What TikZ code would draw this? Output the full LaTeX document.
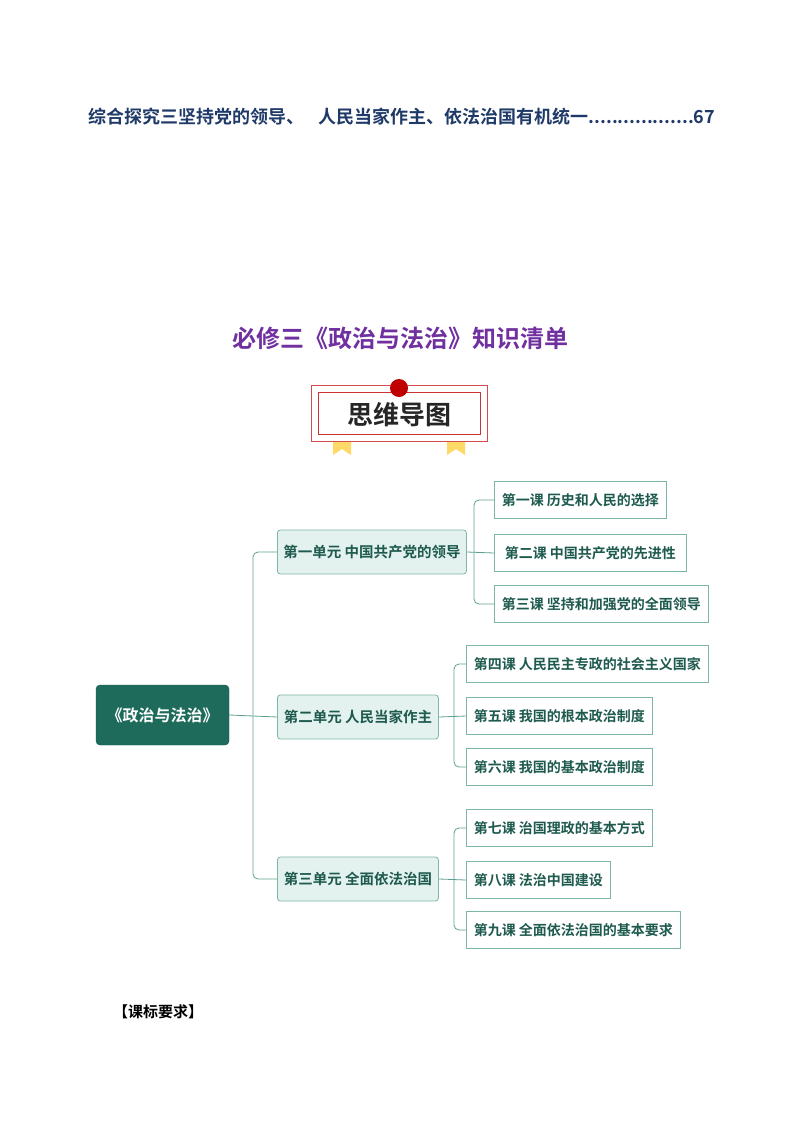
\documentclass[tikz,border=0pt]{standalone}
\usepackage{fontspec}
\setmainfont{Noto Sans CJK SC}[BoldFont={Noto Sans CJK SC Bold}]
\newfontfamily\cjkb{Noto Sans CJK SC Bold}
\definecolor{dkg}{HTML}{1E6B5C}
\definecolor{txg}{HTML}{1E5A4E}
\definecolor{lg}{HTML}{E4F2EF}
\definecolor{bd}{HTML}{7DB5A8}
\definecolor{ln}{HTML}{5E9E90}
\definecolor{navy}{HTML}{1F3A68}
\definecolor{purp}{HTML}{7030A0}
\definecolor{redc}{HTML}{C00000}
\definecolor{yel}{HTML}{FFD966}
\begin{document}
\begin{tikzpicture}[x=1pt,y=-1pt,
  unitbox/.style={draw=bd,fill=lg,rounded corners=3,line width=0.8,minimum height=44,font=\cjkb\fontsize{14.5}{14.5}\selectfont,text=txg,anchor=west,inner sep=3},
  lessonbox/.style={draw=bd,fill=white,line width=0.8,minimum height=37,font=\cjkb\fontsize{14}{14}\selectfont,text=txg,anchor=west,inner xsep=5},
  conn/.style={draw=ln,line width=0.8,rounded corners=5}]
\useasboundingbox (0,0) rectangle (800,1132);
\node[anchor=west,text=navy,font=\cjkb\fontsize{18}{18}\selectfont,inner sep=0] (toc) at (88,117) {综合探究三坚持党的领导、\hspace{0.8em}人民当家作主、依法治国有机统一..................67};
\node[text=purp,font=\cjkb\fontsize{24}{24}\selectfont] (title) at (400,338) {必修三《政治与法治》知识清单};
% banner
\fill[yel] (333,436) -- (351,436) -- (351,455) -- (342,449) -- (333,455) -- cycle;
\fill[yel] (447,436) -- (465,436) -- (465,455) -- (456,449) -- (447,455) -- cycle;
\draw[redc!70,fill=white,line width=0.6] (311,385) rectangle (487,441);
\draw[redc!80,line width=0.8] (318,392) rectangle (480,434);
\fill[redc] (399,388) circle (9);
\node[font=\cjkb\fontsize{26}{26}\selectfont,text=black!85] (mm) at (399,415) {思维导图};
% root
\node[fill=dkg,draw=dkg!80!black,rounded corners=4,minimum width=133,minimum height=60,text=white,font=\cjkb\fontsize{16}{16}\selectfont] (root) at (162.5,715) {《政治与法治》};
\node[unitbox,minimum width=189] (u1) at (277,552) {第一单元 中国共产党的领导};
\node[unitbox,minimum width=161] (u2) at (277,717) {第二单元 人民当家作主};
\node[unitbox,minimum width=161] (u3) at (277,879) {第三单元 全面依法治国};
\node[lessonbox,minimum width=172] (l1) at (494,500) {第一课 历史和人民的选择};
\node[lessonbox,minimum width=192] (l2) at (494,553) {第二课 中国共产党的先进性};
\node[lessonbox,minimum width=214] (l3) at (494,604) {第三课 坚持和加强党的全面领导};
\node[lessonbox,minimum width=242] (l4) at (466,664) {第四课 人民民主专政的社会主义国家};
\node[lessonbox,minimum width=186] (l5) at (466,716) {第五课 我国的根本政治制度};
\node[lessonbox,minimum width=186] (l6) at (466,767) {第六课 我国的基本政治制度};
\node[lessonbox,minimum width=186] (l7) at (466,828) {第七课 治国理政的基本方式};
\node[lessonbox,minimum width=144] (l8) at (466,880) {第八课 法治中国建设};
\node[lessonbox,minimum width=214] (l9) at (466,930) {第九课 全面依法治国的基本要求};
\node[anchor=west,font=\cjkb\fontsize{15}{15}\selectfont,inner sep=0] (kb) at (113,1012) {【课标要求】};
% connectors
\draw[conn] (root.east) -- (u2.west);
\draw[conn] (u1.west) -- (253,552) -- (253,879) -- (u3.west);
\draw[conn] (u1.east) -- (l2.west);
\draw[conn] (l1.west) -- (474,500) -- (474,604) -- (l3.west);
\draw[conn] (u2.east) -- (l5.west);
\draw[conn] (l4.west) -- (454,664) -- (454,767) -- (l6.west);
\draw[conn] (u3.east) -- (l8.west);
\draw[conn] (l7.west) -- (454,828) -- (454,930) -- (l9.west);
\end{tikzpicture}
\end{document}
